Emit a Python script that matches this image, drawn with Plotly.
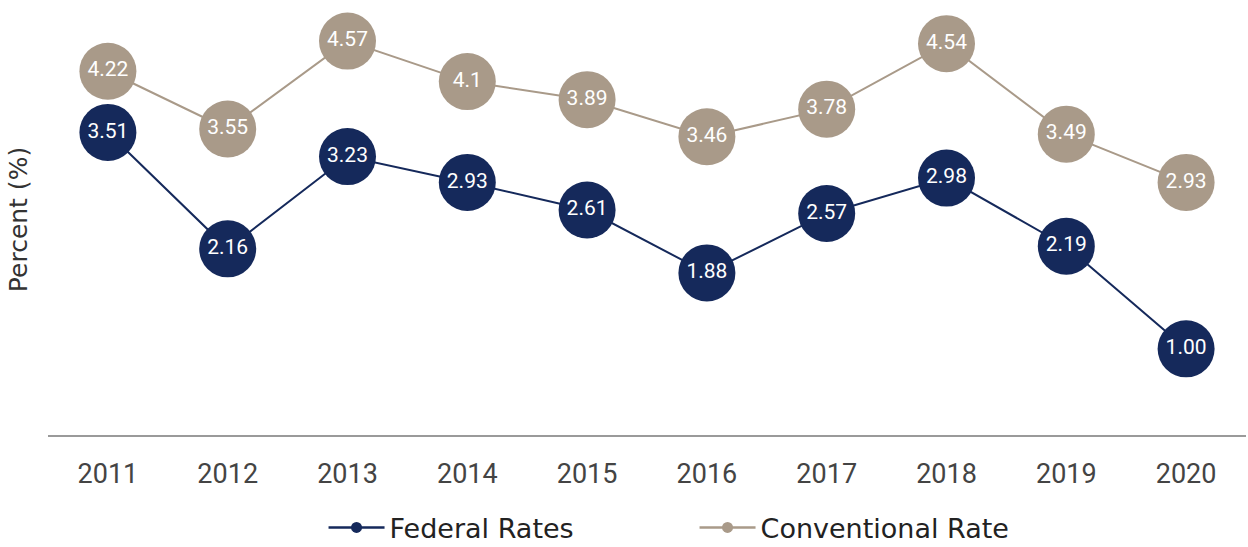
import plotly.graph_objects as go

years = ["2011", "2012", "2013", "2014", "2015", "2016", "2017", "2018", "2019", "2020"]
federal = [3.51, 2.16, 3.23, 2.93, 2.61, 1.88, 2.57, 2.98, 2.19, 1.00]
federal_labels = ["3.51", "2.16", "3.23", "2.93", "2.61", "1.88", "2.57", "2.98", "2.19", "1.00"]
conventional = [4.22, 3.55, 4.57, 4.10, 3.89, 3.46, 3.78, 4.54, 3.49, 2.93]
conventional_labels = ["4.22", "3.55", "4.57", "4.1", "3.89", "3.46", "3.78", "4.54", "3.49", "2.93"]

NAVY = "#15295B"
TAN = "#A99A89"
WIDE = "DejaVu Sans, sans-serif"
NARROW = "Roboto, sans-serif"

fig = go.Figure()
for name, vals, labels, col in [
    ("Federal Rates", federal, federal_labels, NAVY),
    ("Conventional Rate", conventional, conventional_labels, TAN),
]:
    fig.add_trace(go.Scatter(
        x=years, y=vals, text=labels, mode="lines+markers+text",
        textposition="middle center",
        textfont=dict(color="white", size=21, family=NARROW),
        line=dict(color=col, width=2),
        marker=dict(size=57, color=col),
        showlegend=False, hoverinfo="skip", cliponaxis=False,
    ))
    fig.add_trace(go.Scatter(
        x=[None], y=[None], name=name, mode="lines+markers",
        line=dict(color=col, width=2.5), marker=dict(size=11, color=col),
    ))

fig.update_layout(
    width=1248, height=547,
    margin=dict(l=48, r=2, t=4, b=112, autoexpand=False),
    plot_bgcolor="white", paper_bgcolor="white",
    font=dict(family=WIDE, color="#333333", size=25),
    legend=dict(orientation="h", x=0.23, xanchor="left", yref="container", y=0.035, yanchor="middle",
                font=dict(size=27, color="#222222", family=WIDE), itemwidth=56,
                entrywidth=300, tracegroupgap=0),
    xaxis=dict(type="category", range=[-0.5, 9.5], showgrid=False, showline=True,
               linecolor="#9a9a9a", linewidth=1.5, ticks="",
               tickfont=dict(size=27, color="#444444", family=NARROW),
               ticklabelstandoff=14, automargin=False),
    yaxis=dict(range=[0, 5], showgrid=False, showticklabels=False, zeroline=False, automargin=False,
               title=dict(text="Percent (%)", font=dict(size=25, color="#333333", family=WIDE), standoff=12)),
)

fig.write_html("out.html", config={"displayModeBar": False},
               post_script="document.body.style.margin='0';")
